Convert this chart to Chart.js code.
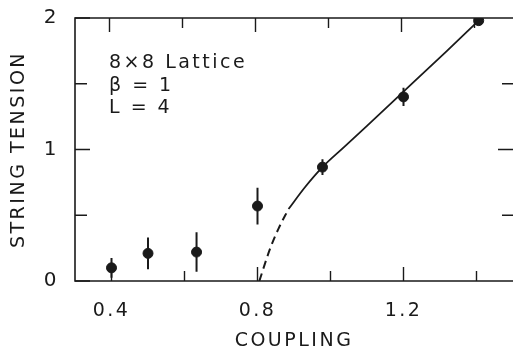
<!DOCTYPE html>
<html>
<head>
<meta charset="utf-8">
<script src="https://cdn.jsdelivr.net/npm/chart.js@4.4.1/dist/chart.umd.min.js"></script>
<style>
  html, body { margin: 0; padding: 0; background: #fff; }
  #wrap { width: 513px; height: 354px; }
</style>
</head>
<body>
<div id="wrap"><canvas id="tensionChart" width="513" height="354"></canvas></div>
<script>
// measured points with error bars
const coupling = [0.4, 0.5, 0.633, 0.8, 0.978, 1.2, 1.406];
const tension = [0.10, 0.21, 0.22, 0.57, 0.866, 1.40, 1.98];
const tensionErr = [0.075, 0.12, 0.15, 0.14, 0.06, 0.07, 0];

// fitted curve: dashed part, then solid part
const dashX = [0.805, 0.834, 0.857, 0.885];
const dashY = [0, 0.242, 0.395, 0.547];
const solidX = [0.885, 0.93, 0.978, 1.04, 1.1, 1.2, 1.317, 1.406];
const solidY = [0.547, 0.713, 0.866, 1.025, 1.18, 1.44, 1.745, 1.98];

// axis ticks
const xMajorTicks = [0.4, 0.8, 1.2];
const xMinorTicks = [0.6, 1.0, 1.4];
const yMajorTicks = [0, 1, 2];
const yMinorTicks = [0.5, 1.5];
const rightTicks = [0.5, 1, 1.5];

const legendLines = ["8\u00d78 Lattice", "\u03b2 = 1", "L = 4"];

const INK = "#1a1a1a";
const FONT = "'DejaVu Sans', sans-serif";
const SPACING = "2.5px";

function toPoints(xs, ys) {
    return xs.map((x, i) => ({ x, y: ys[i] }));
}

// the lettering in the figure is widely spaced
const letterSpacing = {
    id: "letterSpacing",
    beforeLayout(chart) { chart.ctx.letterSpacing = SPACING; },
    beforeDraw(chart) { chart.ctx.letterSpacing = SPACING; }
};

const frameAndTicks = {
    id: "frameAndTicks",
    afterDatasetsDraw(chart) {
        const { ctx, chartArea: a, scales: { x, y } } = chart;
        ctx.save();
        ctx.strokeStyle = INK;
        ctx.lineWidth = 1.6;
        ctx.beginPath();
        ctx.moveTo(a.right + 2, a.top);
        ctx.lineTo(a.left, a.top);
        ctx.lineTo(a.left, a.bottom);
        ctx.lineTo(a.right + 2, a.bottom);
        ctx.stroke();

        ctx.lineWidth = 1.4;
        ctx.beginPath();
        const xt = (v, len) => {
            const px = x.getPixelForValue(v);
            ctx.moveTo(px, a.bottom); ctx.lineTo(px, a.bottom - len);
            ctx.moveTo(px - 2, a.top); ctx.lineTo(px - 2, a.top + len);
        };
        xMajorTicks.forEach(v => xt(v, 14));
        xMinorTicks.forEach(v => xt(v, 10));
        const yt = (v, len) => {
            const py = y.getPixelForValue(v);
            ctx.moveTo(a.left, py); ctx.lineTo(a.left + len, py);
        };
        yMajorTicks.forEach(v => yt(v, 15));
        yMinorTicks.forEach(v => yt(v, 12));
        rightTicks.forEach(v => {
            const py = y.getPixelForValue(v);
            const len = v === 1 ? 15 : 11;
            ctx.moveTo(a.right, py); ctx.lineTo(a.right - len, py);
        });
        ctx.stroke();

        // error bars
        ctx.lineWidth = 2;
        ctx.beginPath();
        coupling.forEach((c, i) => {
            if (!tensionErr[i]) return;
            const px = x.getPixelForValue(c);
            ctx.moveTo(px, y.getPixelForValue(tension[i] - tensionErr[i]));
            ctx.lineTo(px, y.getPixelForValue(tension[i] + tensionErr[i]));
        });
        ctx.stroke();

        // annotation
        ctx.fillStyle = INK;
        ctx.font = "19px " + FONT;
        ctx.letterSpacing = SPACING;
        ctx.textBaseline = "alphabetic";
        ctx.textAlign = "left";
        const bases = [68, 91, 113];
        legendLines.forEach((t, i) => ctx.fillText(t, 109, bases[i]));
        ctx.restore();
    }
};

new Chart(document.getElementById("tensionChart"), {
    type: "scatter",
    data: {
        datasets: [
            {
                label: "Data",
                data: toPoints(coupling, tension),
                backgroundColor: INK,
                borderColor: INK,
                pointRadius: 5,
                pointHoverRadius: 5
            },
            {
                type: "line",
                label: "Dashed",
                data: toPoints(dashX, dashY),
                borderColor: INK,
                borderWidth: 2,
                borderDash: [8, 5],
                pointRadius: 0,
                cubicInterpolationMode: "monotone",
                fill: false
            },
            {
                type: "line",
                label: "Solid",
                data: toPoints(solidX, solidY),
                borderColor: INK,
                borderWidth: 1.8,
                pointRadius: 0,
                cubicInterpolationMode: "monotone",
                fill: false
            }
        ]
    },
    options: {
        responsive: false,
        animation: false,
        layout: { autoPadding: false, padding: { top: 18, right: 0, left: 0, bottom: 0 } },
        plugins: { legend: { display: false }, tooltip: { enabled: false } },
        scales: {
            x: {
                type: "linear",
                min: 0.3,
                max: 1.5,
                grid: { display: false, drawTicks: false },
                border: { display: false },
                afterFit(scale) {
                    scale.height = 73;
                    scale.paddingLeft = 0;
                    scale.paddingRight = 0;
                },
                afterBuildTicks(scale) { scale.ticks = xMajorTicks.map(v => ({ value: v })); },
                ticks: {
                    color: INK,
                    font: { family: FONT, size: 19 },
                    padding: 19,
                    maxRotation: 0,
                    callback: v => v.toFixed(1)
                },
                title: {
                    display: true,
                    text: "COUPLING",
                    color: INK,
                    font: { family: FONT, size: 19 },
                    padding: { top: 0, bottom: 2 }
                }
            },
            y: {
                min: 0,
                max: 2,
                grid: { display: false, drawTicks: false },
                border: { display: false },
                afterFit(scale) {
                    scale.width = 75;
                    scale.paddingTop = 0;
                    scale.paddingBottom = 0;
                },
                afterBuildTicks(scale) { scale.ticks = yMajorTicks.map(v => ({ value: v })); },
                ticks: {
                    color: INK,
                    font: { family: FONT, size: 20 },
                    padding: 16,
                    callback: v => String(v)
                },
                title: {
                    display: true,
                    text: "STRING TENSION",
                    color: INK,
                    font: { family: FONT, size: 19 },
                    padding: { top: 8, bottom: 0 }
                }
            }
        }
    },
    plugins: [letterSpacing, frameAndTicks]
});
</script>
</body>
</html>
